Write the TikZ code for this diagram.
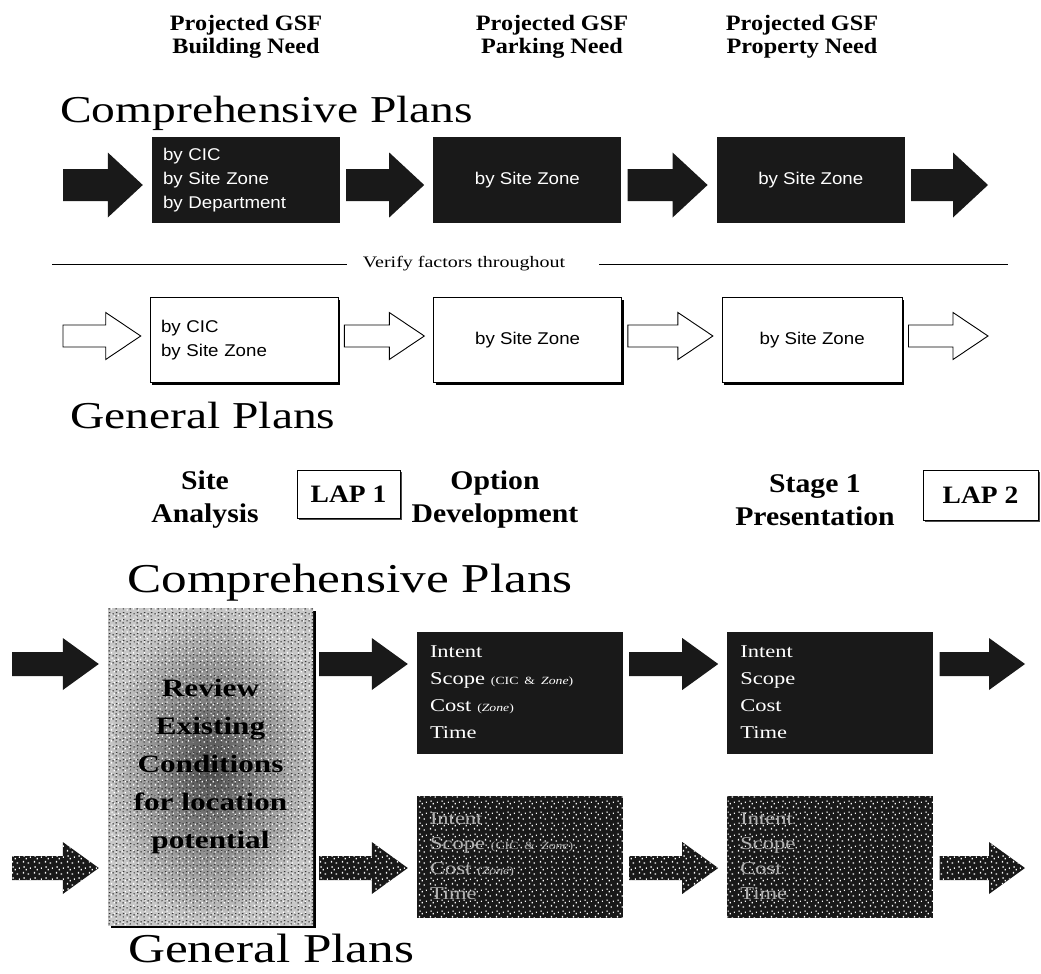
\documentclass[tikz,border=0pt]{standalone}
\usepackage{fontspec}
\setmainfont{Liberation Serif}[FakeStretch=1.25]
\newfontfamily\headserif{Liberation Serif}[FakeStretch=1.1]
\newfontfamily\boxsans{Liberation Sans}[FakeStretch=1.1]
\usepackage{tikz}
\usetikzlibrary{positioning,calc,shadows,patterns.meta}
\newcommand{\aside}[1]{{\fontsize{11}{11}\selectfont #1}}

% white flecks on the scanned fills
\tikzdeclarepattern{
  name=speckle,
  type=uncolored,
  bounding box={(0pt,0pt) and (11pt,11pt)},
  tile size={(11pt,11pt)},
  code={
    \fill (1pt,1.5pt) rectangle (2.3pt,3.3pt);
    \fill (6pt,0.5pt) rectangle (7.6pt,1.7pt);
    \fill (4pt,5pt) rectangle (5.2pt,6.6pt);
    \fill (8.5pt,6.5pt) rectangle (9.7pt,8.1pt);
    \fill (1.5pt,8pt) rectangle (3.1pt,9.2pt);
  }
}
\tikzdeclarepattern{
  name=specklealt,
  type=uncolored,
  bounding box={(0pt,0pt) and (7pt,7pt)},
  tile size={(7pt,7pt)},
  code={
    \fill (0.5pt,3pt) rectangle (2pt,4.2pt);
    \fill (4pt,0.5pt) rectangle (5.2pt,2pt);
    \fill (4.5pt,4.5pt) rectangle (6pt,5.6pt);
  }
}

\begin{document}
\begin{tikzpicture}[
  x=1pt, y=-1pt,
  arrow shaft/.store in=\shafthalf,
  arrow head/.store in=\headhalf,
  arrow tip/.store in=\tiplen,
  arrow shaft=16pt, arrow head=32.5pt, arrow tip=35pt,
  blockarrow/.style={
    to path={let \p1=(\tikztostart), \p2=(\tikztotarget) in
      (\x1+6pt,\y1+\shafthalf) -- (\x2-9pt-\tiplen,\y1+\shafthalf)
      -- (\x2-9pt-\tiplen,\y1+\headhalf) -- (\x2-9pt,\y1)
      -- (\x2-9pt-\tiplen,\y1-\headhalf) -- (\x2-9pt-\tiplen,\y1-\shafthalf)
      -- (\x1+6pt,\y1-\shafthalf) -- cycle}
  },
  solidarrow/.style={blockarrow, draw=none, fill=black!90},
  hollowarrow/.style={blockarrow, draw=black, line width=0.9pt, fill=white,
    arrow shaft=11pt, arrow head=23.5pt},
  specklearrow/.style={blockarrow, draw=none, fill=black!90,
    postaction={pattern=speckle, pattern color=white}},
  lowsize/.style={arrow shaft=12pt, arrow head=26pt, arrow tip=36pt},
  heading/.style={
    align=center,
    inner sep=0pt,
    font=\headserif\bfseries\fontsize{22}{23}\selectfont
  },
  stagehead/.style={
    align=center,
    inner sep=0pt,
    font=\headserif\bfseries\fontsize{27}{33}\selectfont
  },
  plantitle/.style={inner sep=0pt, font=\fontsize{38}{40}\selectfont},
  bigtitle/.style={inner sep=0pt, font=\fontsize{41}{43}\selectfont},
  note/.style={inner sep=0pt, font=\fontsize{16}{18}\selectfont},
  darkbox/.style={
    rectangle,
    fill=black!90,
    text=white,
    minimum width=188pt,
    minimum height=86pt,
    font=\boxsans\fontsize{17}{24}\selectfont
  },
  lightbox/.style={
    rectangle,
    draw=black,
    line width=0.6pt,
    fill=white,
    minimum width=188pt,
    minimum height=85pt,
    font=\boxsans\fontsize{17}{24}\selectfont,
    drop shadow={shadow xshift=2pt, shadow yshift=-2pt, opacity=1, fill=black}
  },
  listtext/.style={text width=166pt, inner xsep=11pt, align=left},
  seriflist/.style={
    text width=180pt,
    inner xsep=13pt,
    align=left,
    minimum width=206pt,
    minimum height=122pt,
    font=\rmfamily\fontsize{18}{27}\selectfont
  },
  speckbox/.style={
    darkbox,
    text=gray!60,
    postaction={pattern=speckle, pattern color=white}
  },
  reviewbox/.style={
    rectangle,
    inner color=black!70,
    outer color=black!22,
    minimum width=205pt,
    minimum height=317pt,
    align=center,
    text=black,
    font=\bfseries\fontsize{25}{38}\selectfont,
    drop shadow={shadow xshift=3pt, shadow yshift=-3pt, opacity=1, fill=black},
    postaction={pattern=speckle, pattern color=white},
    postaction={pattern=specklealt, pattern color=black!80}
  },
  lapbox/.style={
    rectangle,
    draw=black,
    line width=0.6pt,
    fill=white,
    minimum width=103pt,
    minimum height=48pt,
    font=\headserif\bfseries\fontsize{25}{25}\selectfont,
    drop shadow={shadow xshift=1.5pt, shadow yshift=-1.5pt, opacity=1, fill=black!70}
  }
]
\useasboundingbox (0,0) rectangle (1041,974);

% upper chart
\node[heading] (hbuild) at (246,37) {Projected GSF\\Building Need};
\node[heading] (hpark) at (552,37) {Projected GSF\\Parking Need};
\node[heading] (hprop) at (802,37) {Projected GSF\\Property Need};
\node[plantitle, anchor=base west] (comp1) at (60,122) {Comprehensive Plans};

\node[darkbox, listtext] (b1) at (246,180) {by CIC\\by Site Zone\\by Department};
\node[darkbox, right=93pt of b1] (b2) {by Site Zone};
\node[darkbox, right=95pt of b2] (b3) {by Site Zone};
\coordinate (in1) at (57,185);
\coordinate (out1) at (997,185);
\draw[solidarrow] (in1) to (b1.west);
\draw[solidarrow] (b1.east |- in1) to (b2.west);
\draw[solidarrow] (b2.east |- in1) to (b3.west);
\draw[solidarrow] (b3.east |- in1) to (out1);

\node[note] (verify) at (464,264) {Verify factors throughout};
\coordinate (vl) at (52,264);
\coordinate (vr) at (1008,264);
\draw[line width=0.9pt] (vl) -- ([xshift=-16pt]verify.west);
\draw[line width=0.9pt] ([xshift=34pt]verify.east) -- (vr);

\node[lightbox, listtext] (w1) at (244,340) {by CIC\\by Site Zone};
\node[lightbox, right=95pt of w1] (w2) {by Site Zone};
\node[lightbox, right=100pt of w2, minimum width=180pt] (w3) {by Site Zone};
\coordinate (in2) at (57,336);
\coordinate (out2) at (997,336);
\draw[hollowarrow] (in2) to (w1.west);
\draw[hollowarrow] (w1.east |- in2) to (w2.west);
\draw[hollowarrow] (w2.east |- in2) to (w3.west);
\draw[hollowarrow] (w3.east |- in2) to (out2);
\node[plantitle, anchor=base west] (gen1) at (70,428) {General Plans};

% stages
\node[stagehead] (site) at (205,500) {Site\\Analysis};
\node[lapbox] (lap1) at (348.5,494) {LAP 1};
\node[stagehead] (option) at (495,500) {Option\\Development};
\node[stagehead] (stage) at (815,500) {Stage 1\\Presentation};
\node[lapbox, minimum width=115pt, minimum height=50pt] (lap2) at (980.5,495) {LAP 2};

% lower chart
\node[bigtitle, anchor=base west] (comp2) at (127,592) {Comprehensive Plans};
\node[reviewbox] (review) at (210.5,766.5) {Review\\Existing\\Conditions\\for location\\potential};
\node[darkbox, seriflist] (lb1) at (520,692.5)
  {Intent\\Scope \aside{(CIC \& \textit{Zone})}\\Cost \aside{(\textit{Zone})}\\Time};
\node[darkbox, seriflist, right=104pt of lb1] (lb2) {Intent\\Scope\\Cost\\Time};
\node[speckbox, seriflist, font=\rmfamily\fontsize{18}{25}\selectfont] (lg1) at (520,856.5)
  {Intent\\Scope \aside{(CIC \& \textit{Zone})}\\Cost \aside{(\textit{Zone})}\\Time};
\node[speckbox, seriflist, font=\rmfamily\fontsize{18}{25}\selectfont, right=104pt of lg1] (lg2)
  {Intent\\Scope\\Cost\\Time};
\node[bigtitle, anchor=base west] (gen2) at (128,962) {General Plans};

\coordinate (in3) at (6,664);
\coordinate (out3) at (1034,664);
\coordinate (in4) at (6,868);
\coordinate (out4) at (1034,868);
\draw[solidarrow, lowsize] (in3) to (review.west);
\draw[solidarrow, lowsize] (review.east |- in3) to (lb1.west);
\draw[solidarrow, lowsize] (lb1.east |- in3) to (lb2.west);
\draw[solidarrow, lowsize] (lb2.east |- in3) to (out3);
\draw[specklearrow, lowsize] (in4) to (review.west);
\draw[specklearrow, lowsize] (review.east |- in4) to (lg1.west);
\draw[specklearrow, lowsize] (lg1.east |- in4) to (lg2.west);
\draw[specklearrow, lowsize] (lg2.east |- in4) to (out4);
\end{tikzpicture}
\end{document}
